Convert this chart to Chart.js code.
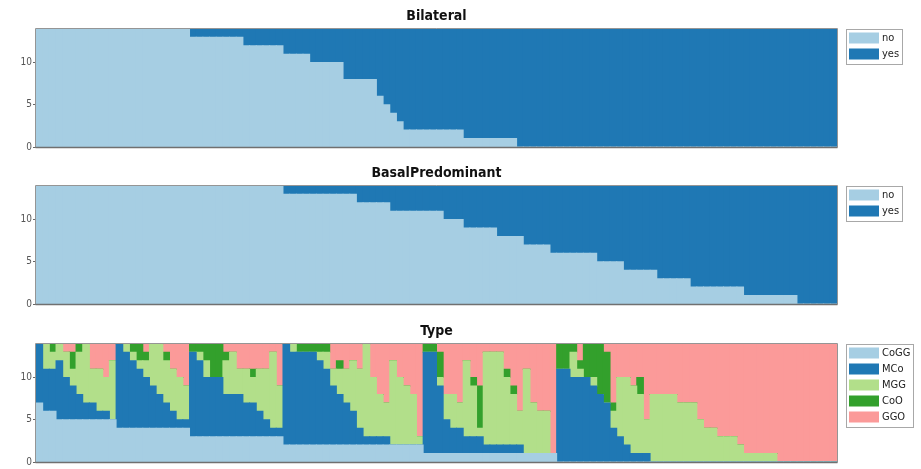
<!DOCTYPE html>
<html>
<head>
<meta charset="utf-8">
<script src="https://cdn.jsdelivr.net/npm/chart.js@4.4.1/dist/chart.umd.min.js"></script>
<style>
html, body { margin: 0; padding: 0; background: #fff; }
#wrap { position: relative; width: 921px; height: 469px; overflow: hidden; }
#wrap canvas { position: absolute; left: 0; }
</style>
</head>
<body>
<div id="wrap">
    <canvas id="bilateral_chart" width="921" height="154" style="top:0px;width:921px;height:154px"></canvas>
    <canvas id="basal_chart" width="921" height="154" style="top:157px;width:921px;height:154px"></canvas>
    <canvas id="type_chart" width="921" height="154" style="top:315px;width:921px;height:154px"></canvas>
</div>
<script>
// 縦軸の目盛り
const y_ticks = [0, 5, 10];
const y_max = 14;

// 横軸のサンプル（120件、ラベルは非表示）
const samples = Array.from({length: 120}, (_, i) => String(i + 1));

// Bilateral
const bilateral_no = [
    14,14,14,14,14,14,14,14,14,14, 14,14,14,14,14,14,14,14,14,14,
    14,14,14,13,13,13,13,13,13,13, 13,12,12,12,12,12,12,11,11,11,
    11,10,10,10,10,10,8,8,8,8, 8,6,5,4,3,2,2,2,2,2,
    2,2,2,2,1,1,1,1,1,1, 1,1,0,0,0,0,0,0,0,0,
    0,0,0,0,0,0,0,0,0,0, 0,0,0,0,0,0,0,0,0,0,
    0,0,0,0,0,0,0,0,0,0, 0,0,0,0,0,0,0,0,0,0
];
const bilateral_yes = [
    0,0,0,0,0,0,0,0,0,0, 0,0,0,0,0,0,0,0,0,0,
    0,0,0,1,1,1,1,1,1,1, 1,2,2,2,2,2,2,3,3,3,
    3,4,4,4,4,4,6,6,6,6, 6,8,9,10,11,12,12,12,12,12,
    12,12,12,12,13,13,13,13,13,13, 13,13,14,14,14,14,14,14,14,14,
    14,14,14,14,14,14,14,14,14,14, 14,14,14,14,14,14,14,14,14,14,
    14,14,14,14,14,14,14,14,14,14, 14,14,14,14,14,14,14,14,14,14
];

// BasalPredominant
const basal_no = [
    14,14,14,14,14,14,14,14,14,14, 14,14,14,14,14,14,14,14,14,14,
    14,14,14,14,14,14,14,14,14,14, 14,14,14,14,14,14,14,13,13,13,
    13,13,13,13,13,13,13,13,12,12, 12,12,12,11,11,11,11,11,11,11,
    11,10,10,10,9,9,9,9,9,8, 8,8,8,7,7,7,7,6,6,6,
    6,6,6,6,5,5,5,5,4,4, 4,4,4,3,3,3,3,3,2,2,
    2,2,2,2,2,2,1,1,1,1, 1,1,1,1,0,0,0,0,0,0
];
const basal_yes = [
    0,0,0,0,0,0,0,0,0,0, 0,0,0,0,0,0,0,0,0,0,
    0,0,0,0,0,0,0,0,0,0, 0,0,0,0,0,0,0,1,1,1,
    1,1,1,1,1,1,1,1,2,2, 2,2,2,3,3,3,3,3,3,3,
    3,4,4,4,5,5,5,5,5,6, 6,6,6,7,7,7,7,8,8,8,
    8,8,8,8,9,9,9,9,10,10, 10,10,10,11,11,11,11,11,12,12,
    12,12,12,12,12,12,13,13,13,13, 13,13,13,13,14,14,14,14,14,14
];

// Type
const type_cogg = [
    7,6,6,5,5,5,5,5,5,5, 5,5,4,4,4,4,4,4,4,4,
    4,4,4,3,3,3,3,3,3,3, 3,3,3,3,3,3,3,2,2,2,
    2,2,2,2,2,2,2,2,2,2, 2,2,2,2,2,2,2,2,1,1,
    1,1,1,1,1,1,1,1,1,1, 1,1,1,1,1,1,1,1,0,0,
    0,0,0,0,0,0,0,0,0,0, 0,0,0,0,0,0,0,0,0,0,
    0,0,0,0,0,0,0,0,0,0, 0,0,0,0,0,0,0,0,0,0
];
const type_mco = [
    7,5,5,7,5,4,3,2,2,1, 1,0,10,9,8,7,6,5,4,3,
    2,1,1,10,9,7,7,7,5,5, 5,4,4,3,2,1,1,12,11,11,
    11,11,10,9,7,6,5,4,2,1, 1,1,1,0,0,0,0,0,12,12,
    8,4,3,3,2,2,2,1,1,1, 1,1,1,0,0,0,0,0,11,11,
    10,10,10,9,8,7,4,3,2,1, 1,1,0,0,0,0,0,0,0,0,
    0,0,0,0,0,0,0,0,0,0, 0,0,0,0,0,0,0,0,0,0
];
const type_mgg = [
    0,3,2,2,3,2,5,7,4,5, 4,7,0,1,1,1,2,5,6,5,
    5,5,4,0,1,2,0,0,4,5, 3,4,3,5,6,9,5,0,1,0,
    0,0,1,2,2,3,4,6,7,11, 7,5,4,10,8,7,6,1,0,0,
    1,3,4,3,9,6,1,11,11,11, 8,6,4,10,6,5,5,0,0,0,
    3,1,0,1,0,0,2,7,8,8, 7,4,8,8,8,8,7,7,7,5,
    4,4,3,3,3,2,1,1,1,1, 1,0,0,0,0,0,0,0,0,0
];
const type_coo = [
    0,0,1,0,0,2,1,0,0,0, 0,0,0,0,1,2,1,0,0,1,
    0,0,0,1,1,2,4,4,1,0, 0,0,1,0,0,0,0,0,0,1,
    1,1,1,1,0,1,0,0,0,0, 0,0,0,0,0,0,0,0,1,1,
    3,0,0,0,0,1,5,0,0,0, 1,1,0,0,0,0,0,0,3,3,
    1,1,4,4,6,6,1,0,0,0, 2,0,0,0,0,0,0,0,0,0,
    0,0,0,0,0,0,0,0,0,0, 0,0,0,0,0,0,0,0,0,0
];
const type_ggo = [
    0,0,0,0,1,1,0,0,3,3, 4,2,0,0,0,0,1,0,0,1,
    3,4,5,0,0,0,0,0,1,1, 3,3,3,3,3,1,5,0,0,0,
    0,0,0,0,3,2,3,2,3,0, 4,6,7,2,4,5,6,11,0,0,
    1,6,6,7,2,4,5,1,1,1, 3,5,8,3,7,8,8,13,0,0,
    0,2,0,0,0,1,7,4,4,5, 4,9,6,6,6,6,7,7,7,9,
    10,10,11,11,11,12,13,13,13,13, 13,14,14,14,14,14,14,14,14,14
];

// 色（Paired）
const colors = {
    light_blue: '#a6cee3',
    dark_blue: '#1f78b4',
    light_green: '#b2df8a',
    dark_green: '#33a02c',
    pink: '#fb9a99'
};

Chart.defaults.font.family = "'DejaVu Sans Condensed', 'DejaVu Sans', sans-serif";

// グラフ枠を描画
const framePlugin = {
    id: 'frame',
    afterDatasetsDraw(chart) {
        const {ctx, chartArea: a} = chart;
        const l = Math.round(a.left) - 0.5;
        const t = Math.round(a.top) - 0.5;
        const r = Math.round(a.right) + 0.5;
        const b = Math.round(a.bottom) + 0.5;
        ctx.save();
        ctx.lineWidth = 1;
        ctx.strokeStyle = '#959595';
        ctx.beginPath();
        ctx.moveTo(l, b);
        ctx.lineTo(l, t);
        ctx.lineTo(r, t);
        ctx.lineTo(r, b);
        ctx.stroke();
        // 下の軸線はやや濃く
        ctx.strokeStyle = '#707070';
        ctx.lineWidth = 1.5;
        ctx.beginPath();
        ctx.moveTo(l, b);
        ctx.lineTo(r, b);
        ctx.stroke();
        ctx.restore();
    }
};

// 凡例（枠付き、グラフ右上）
const legendBoxPlugin = {
    id: 'legendBox',
    afterDraw(chart) {
        const {ctx, chartArea: a} = chart;
        const sets = chart.data.datasets;
        ctx.save();
        ctx.font = "11px 'DejaVu Sans Condensed', 'DejaVu Sans', sans-serif";
        let text_w = 0;
        sets.forEach(d => { text_w = Math.max(text_w, ctx.measureText(d.label).width); });
        const left = Math.round(a.right) + 9;
        const top = Math.round(a.top);
        const row_h = 16;
        const w = 3 + 30 + 3 + text_w + 3;
        const h = sets.length * row_h + 3;
        ctx.strokeStyle = '#a8a8a8';
        ctx.lineWidth = 1;
        ctx.strokeRect(left + 0.5, top + 0.5, Math.round(w), h);
        sets.forEach((d, i) => {
            const y = top + 3.5 + i * row_h;
            ctx.fillStyle = d.backgroundColor;
            ctx.fillRect(left + 3, y, 30, 11);
            ctx.fillStyle = '#222';
            ctx.textBaseline = 'middle';
            ctx.fillText(d.label, left + 36, y + 6);
        });
        ctx.restore();
    }
};

// データセットを作成
function make_dataset(label, data, color) {
    return {
        label: label,
        data: data,
        backgroundColor: color,
        borderWidth: 0,
        barPercentage: 1,
        categoryPercentage: 1,
        inflateAmount: 0.5   // 隣り合う棒の隙間をなくす
    };
}

// グラフを作成
function create_chart(canvas_id, title, datasets) {
    const ctx = document.getElementById(canvas_id).getContext('2d');
    return new Chart(ctx, {
        type: 'bar',
        data: {
            labels: samples,
            datasets: datasets
        },
        options: {
            responsive: false,
            animation: false,
            devicePixelRatio: 1,
            layout: {
                padding: { left: 0, right: 84, top: 0, bottom: 7 }
            },
            scales: {
                x: {
                    stacked: true,
                    display: false
                },
                y: {
                    stacked: true,
                    min: 0,
                    max: y_max,
                    afterFit(scale) { scale.width = 36; },
                    afterBuildTicks(scale) { scale.ticks = y_ticks.map(v => ({value: v})); },
                    grid: {
                        drawOnChartArea: false,
                        drawTicks: true,
                        tickLength: 3,
                        color: '#666'
                    },
                    border: { display: false },
                    ticks: {
                        padding: 1,
                        color: '#555',
                        font: { size: 10 }
                    }
                }
            },
            plugins: {
                legend: { display: false },
                tooltip: { enabled: false },
                title: {
                    display: true,
                    text: title,
                    fullSize: false,
                    color: '#111',
                    font: { size: 14, weight: 'bold' },
                    padding: { top: 8, bottom: 4 }
                }
            }
        },
        plugins: [framePlugin, legendBoxPlugin]
    });
}

create_chart('bilateral_chart', 'Bilateral', [
    make_dataset('no', bilateral_no, colors.light_blue),
    make_dataset('yes', bilateral_yes, colors.dark_blue)
]);

create_chart('basal_chart', 'BasalPredominant', [
    make_dataset('no', basal_no, colors.light_blue),
    make_dataset('yes', basal_yes, colors.dark_blue)
]);

create_chart('type_chart', 'Type', [
    make_dataset('CoGG', type_cogg, colors.light_blue),
    make_dataset('MCo', type_mco, colors.dark_blue),
    make_dataset('MGG', type_mgg, colors.light_green),
    make_dataset('CoO', type_coo, colors.dark_green),
    make_dataset('GGO', type_ggo, colors.pink)
]);
</script>
</body>
</html>
